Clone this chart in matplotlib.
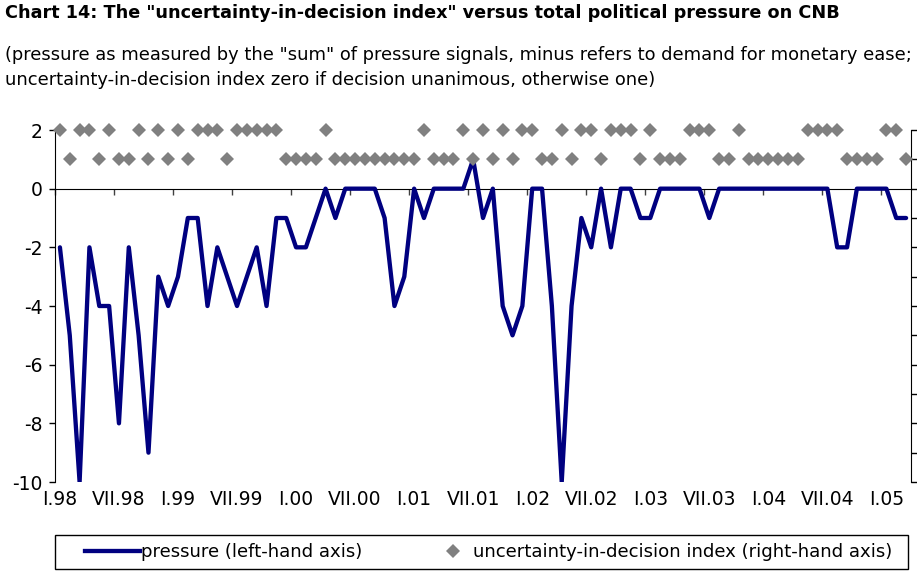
import matplotlib
matplotlib.use("Agg")
import matplotlib.pyplot as plt
from matplotlib.lines import Line2D
from matplotlib.patches import Rectangle
import numpy as np

plt.rcParams['font.family'] = ['DejaVu Sans']
plt.rcParams['axes.unicode_minus'] = False

# monthly data, I.1998 - III.2005
pressure = [-2, -5, -10, -2, -4, -4, -8, -2, -5, -9,
            -3, -4, -3, -1, -1, -4, -2, -3, -4, -3,
            -2, -4, -1, -1, -2, -2, -1, 0, -1, 0,
            0, 0, 0, -1, -4, -3, 0, -1, 0, 0,
            0, 0, 1, -1, 0, -4, -5, -4, 0, 0,
            -4, -10, -4, -1, -2, 0, -2, 0, 0, -1,
            -1, 0, 0, 0, 0, 0, -1, 0, 0, 0,
            0, 0, 0, 0, 0, 0, 0, 0, 0, -2,
            -2, 0, 0, 0, 0, -1, -1]

uncertainty = [1, 0, 1, 1, 0, 1, 0, 0, 1, 0,
               1, 0, 1, 0, 1, 1, 1, 0, 1, 1,
               1, 1, 1, 0, 0, 0, 0, 1, 0, 0,
               0, 0, 0, 0, 0, 0, 0, 1, 0, 0,
               0, 1, 0, 1, 0, 1, 0, 1, 1, 0,
               0, 1, 0, 1, 1, 0, 1, 1, 1, 0,
               1, 0, 0, 0, 1, 1, 1, 0, 0, 1,
               0, 0, 0, 0, 0, 0, 1, 1, 1, 1,
               0, 0, 0, 0, 1, 1, 0]

xlabels = ["I.98", "VII.98", "I.99", "VII.99", "I.00", "VII.00", "I.01", "VII.01",
           "I.02", "VII.02", "I.03", "VII.03", "I.04", "VII.04", "I.05"]
left_ticks = [2, 0, -2, -4, -6, -8, -10]

title = 'Chart 14: The "uncertainty-in-decision index" versus total political pressure on CNB'
sub1 = '(pressure as measured by the "sum" of pressure signals, minus refers to demand for monetary ease;'
sub2 = 'uncertainty-in-decision index zero if decision unanimous, otherwise one)'
leg_labels = ['pressure (left-hand axis)', 'uncertainty-in-decision index (right-hand axis)']

W, H = 917, 571
fig = plt.figure(figsize=(W / 100, H / 100), dpi=100)
ax = fig.add_axes([55 / W, 1 - 482 / H, 856 / W, 352 / H])

n = len(pressure)
x = np.arange(n)
navy = '#000080'
grey = '#808080'
fs = 13.5
ms = 7.0

ax.plot(x, pressure, color=navy, lw=3.1, solid_joinstyle='round', solid_capstyle='round', zorder=3)
ax.set_xlim(-0.5, n - 0.5)
ax.set_ylim(-10, 2)
ax.set_yticks(left_ticks)
ax.set_yticklabels([str(v) for v in left_ticks], fontsize=fs)
ax.tick_params(axis='y', direction='out', length=4.3, width=1, pad=4.5)

for s in ['top', 'right']:
    ax.spines[s].set_visible(False)
ax.spines['bottom'].set_position(('data', 0))
ax.spines['bottom'].set_zorder(2)
ax.set_xticks(np.arange(-0.5, n - 0.5, 6))
ax.set_xticklabels([])
ax.tick_params(axis='x', direction='out', length=4.3, width=1, color='#404040')

sec = ax.secondary_xaxis('bottom')
sec.set_xticks(np.arange(0, n, 6)[:len(xlabels)])
sec.set_xticklabels(xlabels, fontsize=fs)
sec.tick_params(length=0, pad=6)
sec.spines['bottom'].set_visible(False)

ax2 = ax.twinx()
ax2.set_ylim(-11, 1)
ax2.plot(x, uncertainty, linestyle='none', marker='D', ms=ms, color=grey,
         markeredgewidth=0, clip_on=False, zorder=4)
ax2.set_yticks(range(-11, 2))
ax2.tick_params(axis='y', direction='out', length=4.3, width=1, labelright=False)
for s in ['top', 'bottom', 'left']:
    ax2.spines[s].set_visible(False)

fig.text(5 / W, 1 - 13 / H, title, fontsize=12.7, fontweight='bold', va='center', ha='left')
fig.text(5 / W, 1 - 55 / H, sub1, fontsize=12.9, va='center', ha='left')
fig.text(5 / W, 1 - 80 / H, sub2, fontsize=12.9, va='center', ha='left')

# legend box
fig.patches.append(Rectangle((55 / W, 1 - 569 / H), 853 / W, 34 / H, transform=fig.transFigure,
                             facecolor='white', edgecolor='black', linewidth=1.0, zorder=0))
h1 = Line2D([], [], color=navy, lw=3.1)
h2 = Line2D([], [], linestyle='none', marker='D', ms=ms, color=grey, markeredgewidth=0)
leg1 = fig.legend([h1], [leg_labels[0]], loc='center left', bbox_to_anchor=(85 / W, 1 - 552 / H),
                  frameon=False, fontsize=13.1, handlelength=3.0, handletextpad=0.1,
                  borderaxespad=0, borderpad=0)
leg2 = fig.legend([h2], [leg_labels[1]], loc='center left', bbox_to_anchor=(442 / W, 1 - 552 / H),
                  frameon=False, fontsize=13.1, handlelength=1.2, handletextpad=0.5,
                  borderaxespad=0, borderpad=0)

fig.savefig('out.png', dpi=100)
